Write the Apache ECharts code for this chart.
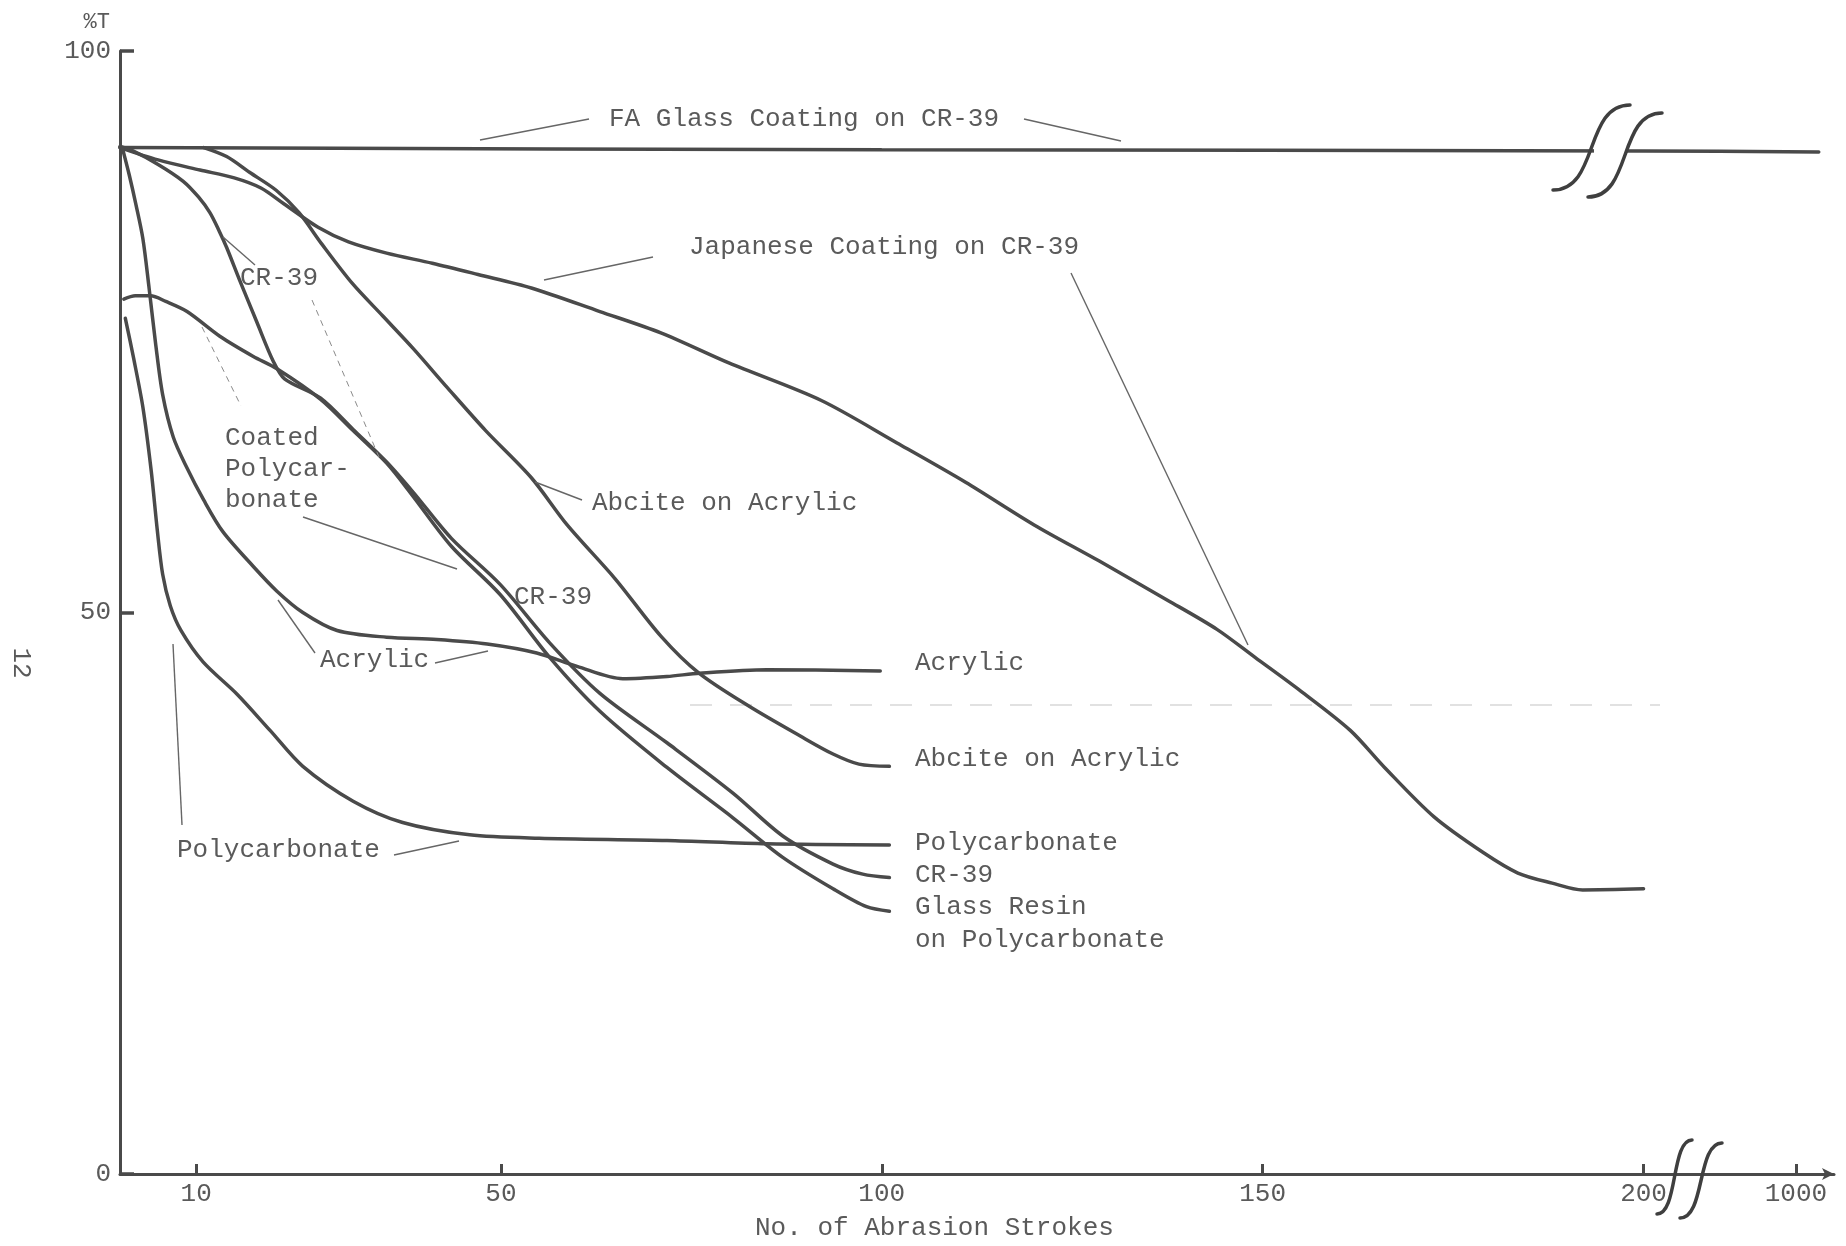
<!DOCTYPE html>
<html>
<head>
<meta charset="utf-8">
<script src="https://cdn.jsdelivr.net/npm/echarts@6/dist/echarts.min.js"></script>
<style>
  html, body { margin: 0; background: #fff; }
  #chart { width: 1846px; height: 1246px; }
</style>
</head>
<body>
<div id="chart"></div>
<script>
// x = No. of Abrasion Strokes, y = %T
const faGlass = [[0, 91.4], [100, 91.2], [200, 91.1], [1150, 91.0]];

const japanese = [
  [0, 91.4], [5, 90.3], [10.5, 89.4], [15, 88.7], [18.5, 87.8], [21.5, 86.4], [26, 84.3],
  [30, 83.0], [35, 82.0], [41, 81.1], [47, 80.1], [54, 78.9], [63, 76.8], [71, 74.9],
  [80, 72.2], [92, 68.9], [102, 65.1], [111, 61.6], [120, 57.8], [128.5, 54.6], [137.5, 51.1],
  [144, 48.5], [149, 46.0], [155, 43.0], [161.5, 39.5], [166, 36.2], [172.5, 31.8], [179, 28.6],
  [183.5, 26.8], [188, 25.9], [192, 25.3], [200, 25.4]
];

const abcite = [
  [11, 91.4], [14, 90.6], [17, 89.2], [20.5, 87.6], [23.5, 85.6], [26.5, 82.8], [30.5, 79.3],
  [34.5, 76.4], [38.5, 73.5], [43, 70.0], [48, 66.2], [54, 62.0], [58.7, 57.8], [65, 53.0],
  [71, 47.9], [76, 44.6], [82.7, 41.6], [89.3, 39.0], [93.6, 37.4], [97, 36.5], [101, 36.3]
];

const cr39 = [
  [0, 91.5], [1.7, 91.1], [5, 89.9], [8.3, 88.4], [10.3, 87.0], [11.8, 85.6], [13, 84.0],
  [14, 82.5], [15.7, 79.6], [18, 75.8], [20.1, 72.4], [21.6, 70.8], [26.3, 69.1], [30.6, 66.3],
  [35, 63.4], [38.5, 60.7], [43.5, 56.6], [49.9, 52.5], [56.4, 47.3], [63, 42.8], [71.8, 38.4],
  [80.5, 33.9], [87, 30.1], [93.6, 27.6], [97.5, 26.7], [101, 26.4]
];

const glassResin = [
  [0.5, 77.9], [2, 78.2], [4, 78.2], [6, 77.7], [8.8, 76.8], [13.1, 74.6], [17.5, 72.8],
  [20.6, 71.7], [26.3, 69.0], [30.6, 66.2], [35, 63.3], [38.3, 60.5], [43.5, 55.9], [49.9, 51.6],
  [56.4, 46.0], [63, 41.2], [71.8, 36.2], [80.5, 31.7], [87, 28.2], [93.6, 25.4], [98, 23.8],
  [101, 23.4]
];

const acrylic = [
  [0.3, 91.4], [1.2, 89.0], [2.1, 86.3], [3, 83.3], [3.8, 79.0], [4.7, 73.8], [5.6, 69.4],
  [7, 65.6], [8.7, 63.0], [11, 60.0], [13.5, 57.2], [17.5, 54.1], [20.6, 51.9], [24, 50.0],
  [28.5, 48.4], [35, 47.8], [41.6, 47.6], [48.2, 47.2], [54.7, 46.4], [60, 45.2], [66, 44.1],
  [71.8, 44.3], [76.1, 44.6], [84.9, 44.9], [99.8, 44.8]
];

const polycarbonate = [
  [0.7, 76.2], [1.8, 72.6], [3, 68.3], [4.1, 62.6], [4.9, 57.3], [5.6, 53.4], [6.6, 50.6],
  [8, 48.4], [10.9, 45.6], [15.4, 42.7], [19.7, 39.5], [24, 36.3], [30.6, 33.2], [37.1, 31.3],
  [45.9, 30.2], [55, 29.9], [71.8, 29.7], [84.9, 29.4], [101, 29.3]
];

const xTickValues = [10, 50, 100, 150, 200, 1000];
const yTickValues = [0, 50, 100];

// broken x axis: linear up to 200, then 1000 sits at 220
function axisPos(v) {
  return v <= 200 ? v : 220 + (v - 1000) / 50;
}

const INK = '#4a4a4a';
const TEXT = '#5a5a5a';
const FONT = '"Liberation Mono", "DejaVu Sans Mono", monospace';

const curves = [faGlass, japanese, abcite, cr39, glassResin, acrylic, polycarbonate];

function label(text, x, y, extra) {
  return Object.assign({
    type: 'text', x: x, y: y, z: 100,
    style: { text: text, fill: TEXT, fontSize: 26, fontFamily: FONT, verticalAlign: 'middle', lineHeight: 31 }
  }, extra || {});
}
function pointer(x1, y1, x2, y2, dashed) {
  return {
    type: 'line', z: 100,
    shape: { x1: x1, y1: y1, x2: x2, y2: y2 },
    style: { stroke: dashed ? '#8a8a8a' : '#666', lineWidth: dashed ? 1 : 1.4, lineDash: dashed ? [6, 5] : null }
  };
}
// slanted "//" break stroke, bottom-left to top-right
function breakMark(x0, y0, x1, y1) {
  const dx = x1 - x0;
  return {
    type: 'bezierCurve', z: 110,
    shape: { x1: x0, y1: y0, cpx1: x0 + dx * 0.6, cpy1: y0, cpx2: x1 - dx * 0.6, cpy2: y1, x2: x1, y2: y1 },
    style: { stroke: '#3f3f3f', lineWidth: 3.5, fill: null, lineCap: 'round' }
  };
}

const chart = echarts.init(document.getElementById('chart'));
chart.setOption({
  backgroundColor: '#fff',
  animation: false,
  grid: { left: 120, right: 12, top: 51, bottom: 72 },
  xAxis: {
    type: 'value',
    min: 0,
    max: 225,
    splitLine: { show: false },
    axisLine: {
      show: true,
      symbol: ['none', 'arrow'],
      symbolSize: [9, 12],
      lineStyle: { color: INK, width: 3 }
    },
    axisTick: {
      show: true,
      inside: true,
      length: 10,
      customValues: xTickValues.map(axisPos),
      lineStyle: { color: INK, width: 3 }
    },
    axisLabel: {
      customValues: xTickValues.map(axisPos),
      formatter: function (v) {
        return Math.abs(v - axisPos(1000)) < 0.01 ? '1000' : String(v);
      },
      margin: 7,
      color: TEXT,
      fontSize: 26,
      fontFamily: FONT
    }
  },
  yAxis: {
    type: 'value',
    min: 0,
    max: 100,
    interval: 50,
    splitLine: { show: false },
    axisLine: { show: true, lineStyle: { color: INK, width: 3 } },
    axisTick: {
      show: true,
      inside: true,
      length: 14,
      customValues: yTickValues,
      lineStyle: { color: INK, width: 3.5 }
    },
    axisLabel: {
      customValues: yTickValues,
      margin: 9,
      color: TEXT,
      fontSize: 26,
      fontFamily: FONT
    }
  },
  series: curves.map(function (pts) {
    return {
      type: 'line',
      z: 2,
      data: pts.map(function (p) { return [axisPos(p[0]), p[1]]; }),
      smooth: 0.3,
      symbol: 'none',
      silent: true,
      lineStyle: { color: INK, width: 3.5, cap: 'round' }
    };
  }),
  graphic: {
    elements: [
      // faint scan dash across the middle
      {
        type: 'line', z: 1,
        shape: { x1: 690, y1: 705, x2: 1660, y2: 705 },
        style: { stroke: '#d8d8d8', lineWidth: 1.5, lineDash: [22, 18] }
      },
      // gap in the FA line between the break strokes
      {
        type: 'rect', z: 105,
        shape: { x: 1594, y: 144, width: 33, height: 16 },
        style: { fill: '#ffffff', stroke: null }
      },
      breakMark(1553, 190, 1630, 105),
      breakMark(1588, 197, 1662, 113),
      breakMark(1657, 1214, 1692, 1140),
      breakMark(1680, 1218, 1722, 1143),

      label('%T', 110, 22, { style: { text: '%T', fill: TEXT, fontSize: 22, fontFamily: FONT, align: 'right', verticalAlign: 'middle' } }),
      label('12', 21, 663, { rotation: -Math.PI / 2, style: { text: '12', fill: TEXT, fontSize: 26, fontFamily: FONT, align: 'center', verticalAlign: 'middle' } }),
      label('No. of Abrasion Strokes', 755, 1228),

      label('FA Glass Coating on CR-39', 609, 119),
      pointer(480, 140, 589, 119),
      pointer(1024, 119, 1121, 141),

      label('Japanese Coating on CR-39', 689, 247),
      pointer(653, 257, 544, 280),
      pointer(1071, 273, 1248, 645),

      label('CR-39', 240, 278),
      pointer(223, 237, 255, 265),
      pointer(312, 300, 379, 457, true),

      label('Coated\nPolycar-\nbonate', 225, 469),
      pointer(202, 327, 241, 406, true),
      pointer(303, 517, 457, 569),

      label('Abcite on Acrylic', 592, 503),
      pointer(535, 482, 582, 500),

      label('CR-39', 514, 597),

      label('Acrylic', 320, 660),
      pointer(278, 600, 315, 653),
      pointer(435, 663, 488, 651),

      label('Polycarbonate', 177, 850),
      pointer(173, 644, 182, 825),
      pointer(394, 855, 459, 841),

      label('Acrylic', 915, 663),
      label('Abcite on Acrylic', 915, 759),
      label('Polycarbonate', 915, 843),
      label('CR-39', 915, 875),
      label('Glass Resin', 915, 907),
      label('on Polycarbonate', 915, 940)
    ]
  }
});
</script>
</body>
</html>
